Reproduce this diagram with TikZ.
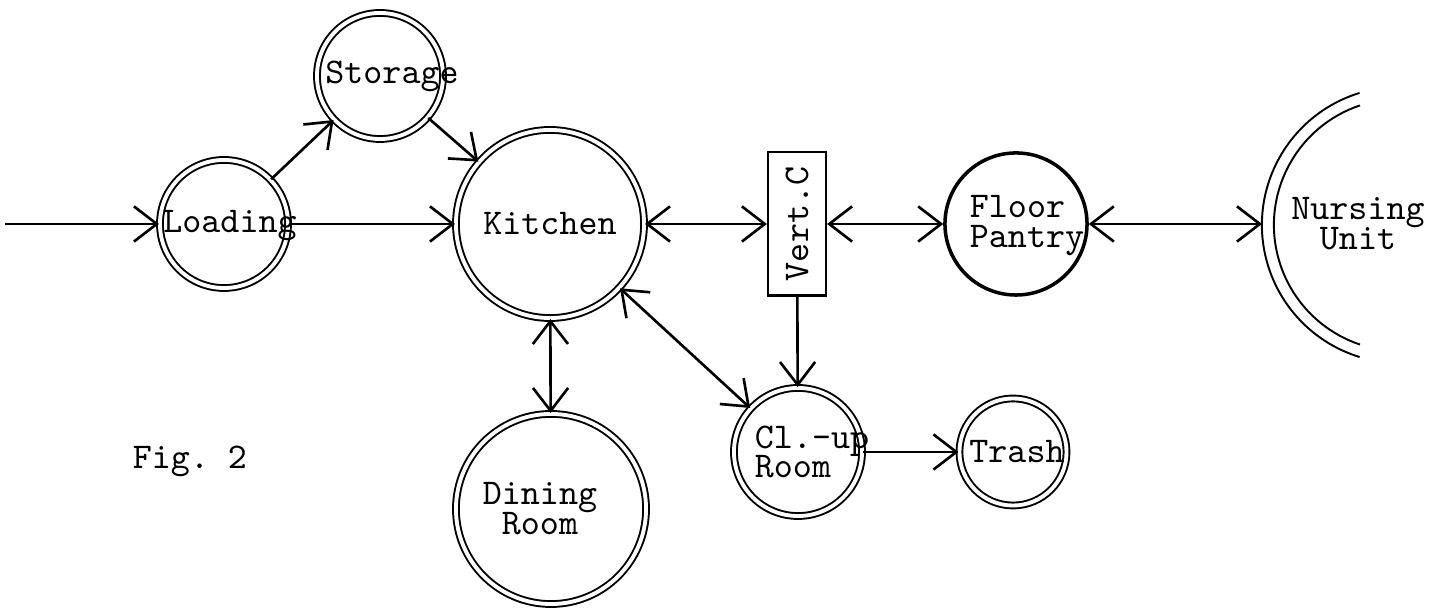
\documentclass[tikz,border=0pt]{standalone}
\usepackage{fontspec}
\usetikzlibrary{arrows.meta}
\newcommand{\typed}{\ttfamily\fontsize{10.3}{8.5}\selectfont\lineskiplimit=-10pt\relax}
\begin{document}
\begin{tikzpicture}[x=0.01cm, y=0.01cm,
        font=\typed,
        barb/.tip={Straight Barb[length=6.5pt,width=10pt]},
        room/.style={circle, draw, double, line width=0.55pt, double distance=1.1pt, inner sep=0pt},
        pantryring/.style={circle, draw, line width=1pt, inner sep=0pt},
        shaft/.style={line width=0.75pt, -barb},
        twoway/.style={line width=0.75pt, barb-barb}]
    \useasboundingbox (0,0) rectangle (1438,610);
        %% Rooms
        \node[room, minimum size=1.28cm, label={[xshift=0.06cm,yshift=-0.02cm]center:Loading}] (loading) at (224,386) {};
        \node[room, minimum size=1.26cm, label={[xshift=0.12cm]center:Storage}] (storage) at (380,534) {};
        \node[room, minimum size=1.88cm, label=center:Kitchen] (kitchen) at (550,386) {};
        \node[room, minimum size=1.90cm, label={[align=center,xshift=-0.11cm]center:{Dining\\Room}}] (dining) at (551,101) {};
        \node[draw, line width=0.6pt, rotate=90, minimum width=1.43cm, minimum height=0.58cm, inner sep=0pt] (vertc) at (797,386) {Vert.C};
        \node[pantryring, minimum size=1.42cm, label={[align=left,xshift=0.11cm,yshift=-0.02cm]center:{Floor\\Pantry}}] (pantry) at (1016,386) {};
        \node[room, minimum size=1.28cm, label={[align=left,xshift=0.14cm]center:{Cl.-up\\Room}}] (cleanup) at (798,158) {};
        \node[room, minimum size=1.07cm, label={[xshift=0.04cm]center:Trash}] (trash) at (1013,158) {};
        %% Nursing unit, cut off at the edge
        \draw[line width=0.55pt] (1400,385) ++(107:1.38cm) arc[start angle=107, end angle=253, radius=1.38cm];
        \draw[line width=0.55pt] (1400,385) ++(108.5:1.26cm) arc[start angle=108.5, end angle=251.5, radius=1.26cm];
        \node[align=center] (nursing) at (1358,386) {Nursing\\Unit};
        \coordinate (nuedge) at (1262,386);
        \coordinate (entry) at (5,386);
        %% Flows
        \draw[shaft] (entry) -- (loading);
        \draw[shaft] (loading) -- (storage);
        \draw[shaft] (storage) -- (kitchen);
        \draw[shaft] (loading) -- (kitchen);
        \draw[twoway] (kitchen) -- (vertc);
        \draw[twoway] (vertc) -- (pantry);
        \draw[twoway] (pantry) -- (nuedge);
        \draw[twoway] (kitchen) -- (dining);
        \draw[twoway] (kitchen) -- (cleanup);
        \draw[shaft] (vertc) -- (cleanup);
        \draw[shaft] (cleanup) -- (trash);
        %% Caption
        \node (fig) at (190,149) {Fig.~2};
    \end{tikzpicture}
\end{document}
